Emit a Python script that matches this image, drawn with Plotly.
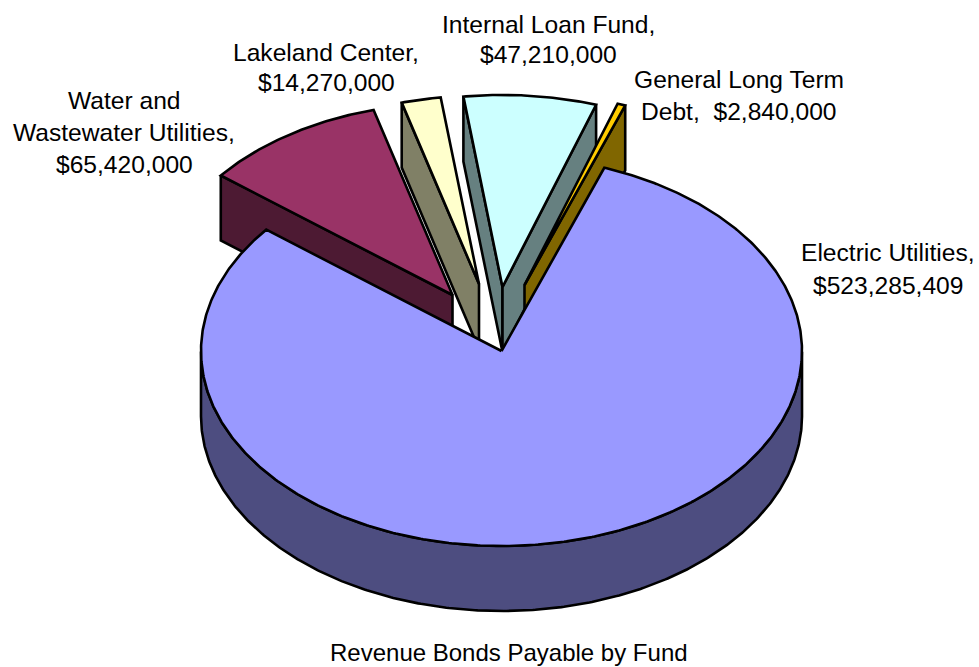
import numpy as np
import plotly.graph_objects as go

# Revenue bonds payable, by fund
funds = ["Electric Utilities", "Water and Wastewater Utilities", "Lakeland Center",
         "Internal Loan Fund", "General Long Term Debt"]
bonds = [523285409, 65420000, 14270000, 47210000, 2840000]

# Pie geometry, in pixels of the 979x667 canvas
CX, CY, RX, RY, DEPTH = 501.5, 351.0, 300.5, 195.0, 65.0
START_DEG = 20.0
top_colors = ["#9999FF", "#993366", "#FFFFCC", "#CCFFFF", "#FFCC00"]
side_colors = ["#4D4D80", "#4D1A33", "#808066", "#668080", "#806600"]
# Apex position and radius scale of each slice, once pulled away from the centre
apex_x = [501.5, 452.5, 479.0, 502.5, 524.5]
apex_y = [351.0, 295.0, 284.0, 287.0, 285.0]
scale = [1.0, 0.985, 0.965, 0.985, 0.98]


def money(v):
    return f"${v:,}"


# One entry per text line: text, centre x, centre y, font size
labels = [
    ("Internal Loan Fund,", 548, 24, 24.6), (money(bonds[3]), 548, 54, 24.6),
    ("Lakeland Center,", 326, 52, 24.6), (money(bonds[2]), 326, 82, 24.6),
    ("General Long Term", 739, 79, 24.6), (f"Debt,  {money(bonds[4])}", 739, 111, 24.6),
    ("Water and", 124, 100, 24.6), ("Wastewater Utilities,", 124, 132, 24.6),
    (money(bonds[1]), 124, 164, 24.6),
    ("Electric Utilities,", 888, 252, 24.6), (money(bonds[0]), 888, 285, 24.6),
    ("Revenue Bonds Payable by Fund", 509, 652, 24),
]

fig = go.Figure()


def face(xs, ys, color):
    fig.add_trace(go.Scatter(
        x=list(xs), y=list(ys), mode="lines", fill="toself", fillcolor=color,
        line=dict(color="black", width=2.6), hoverinfo="skip", showlegend=False,
    ))


def rim(ax, ay, k, t):
    return ax + k * RX * np.sin(t), ay - k * RY * np.cos(t)


# Sweep limits of every slice, clockwise from twelve o'clock
total = sum(bonds)
sweeps = [2 * np.pi * b / total for b in bonds]
starts = np.radians(START_DEG) + np.concatenate(([0.0], np.cumsum(sweeps)[:-1]))
ends = starts + np.array(sweeps)


def draw_slice(i):
    ax, ay, k = apex_x[i], apex_y[i], scale[i]
    t0, t1 = starts[i], ends[i]
    n = max(int(np.degrees(t1 - t0) * 2), 4)
    ts = np.linspace(t0, t1, n)
    ox, oy = rim(ax, ay, k, ts)

    # Cut faces of a pulled-out slice: drawn only when they turn toward the viewer
    if i != 0:
        for t, sign in ((t0, 1), (t1, -1)):
            if sign * np.sin(t) < 0:
                px, py = rim(ax, ay, k, t)
                face([px, ax, ax, px, px], [py, ay, ay + DEPTH, py + DEPTH, py], side_colors[i])

    # Outer wall: only the front half of the rim is ever seen
    front = ts[np.cos(ts) <= 0]
    if front.size:
        fx, fy = rim(ax, ay, k, front)
        face(np.concatenate((fx, fx[::-1], fx[:1])),
             np.concatenate((fy, fy[::-1] + DEPTH, fy[:1])), side_colors[i])

    face(np.concatenate(([ax], ox, [ax])), np.concatenate(([ay], oy, [ay])), top_colors[i])


# Back slices first, the large front slice last
for idx in (1, 2, 3, 4, 0):
    draw_slice(idx)

for text, x, y, size in labels:
    fig.add_annotation(x=x, y=y, text=text, showarrow=False, xanchor="center", yanchor="middle",
                       font=dict(family="Liberation Sans, Arial, sans-serif", size=size, color="black"))

fig.update_layout(
    width=979, height=667, margin=dict(l=0, r=0, t=0, b=0),
    paper_bgcolor="white", plot_bgcolor="white", showlegend=False,
    xaxis=dict(range=[0, 979], visible=False, fixedrange=True),
    yaxis=dict(range=[667, 0], visible=False, fixedrange=True),
)
fig.write_html("out.html", config={"displayModeBar": False})
